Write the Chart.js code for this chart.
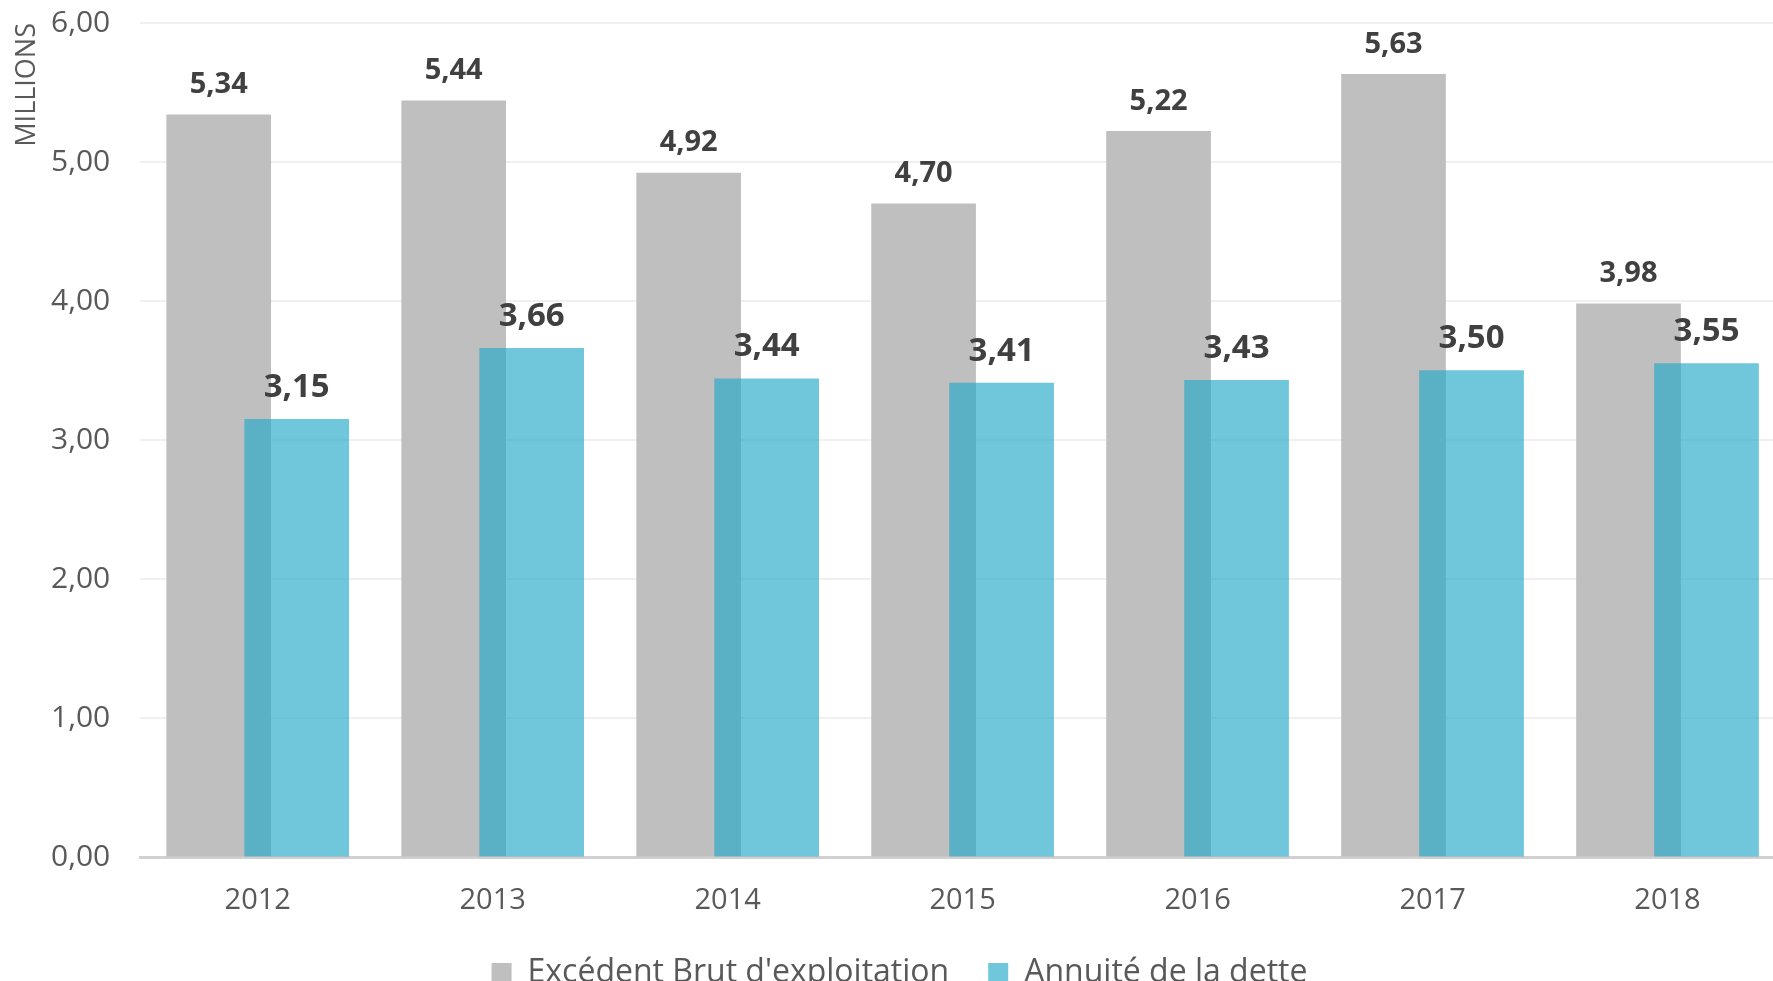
<!DOCTYPE html>
<html lang="fr">
<head>
<meta charset="utf-8">
<title>Excédent Brut d'exploitation et annuité de la dette</title>
<script src="https://cdn.jsdelivr.net/npm/chart.js@4.4.1/dist/chart.umd.min.js"></script>
<style>
  html, body { margin: 0; padding: 0; background: #ffffff; overflow: hidden; }
  .chart-box { position: relative; width: 1792px; height: 999px; }
</style>
</head>
<body>
<div class="chart-box"><canvas id="ebeChart"></canvas></div>
<script>
  // Montants en millions d'euros
  const years = ["2012", "2013", "2014", "2015", "2016", "2017", "2018"];
  const ebe = [5.34, 5.44, 4.92, 4.70, 5.22, 5.63, 3.98];
  const annuite = [3.15, 3.66, 3.44, 3.41, 3.43, 3.50, 3.55];
  const yTicks = [0, 1, 2, 3, 4, 5, 6];

  const FONT = "'Open Sans', 'Noto Sans', sans-serif";
  const TEXT = "#595959";

  function comma(value) {
    return Number(value).toFixed(2).replace(".", ",");
  }

  // the two bars sit left / right of the year, overlapping a little
  function points(values, shift) {
    return values.map((v, i) => ({ x: i + shift, y: v }));
  }

  const valueLabels = {
    id: "valueLabels",
    afterDatasetsDraw(chart, args, opts) {
      const ctx = chart.ctx;
      chart.data.datasets.forEach((dataset, i) => {
        const meta = chart.getDatasetMeta(i);
        if (meta.hidden) return;
        ctx.save();
        ctx.font = `bold ${opts.sizes[i]}px ${FONT}`;
        ctx.fillStyle = "#404040";
        ctx.textAlign = "center";
        ctx.textBaseline = "middle";
        meta.data.forEach((bar, index) => {
          ctx.fillText(comma(dataset.data[index].y), bar.x, bar.y - opts.gaps[i]);
        });
        ctx.restore();
      });
    }
  };

  new Chart(document.getElementById("ebeChart"), {
    type: "bar",
    data: {
      datasets: [
        {
          label: "Excédent Brut d'exploitation",
          data: points(ebe, -0.166),
          backgroundColor: "#bfbfbf",
          barThickness: 104,
          grouped: false,
          order: 1
        },
        {
          label: "Annuité de la dette",
          data: points(annuite, 0.166),
          backgroundColor: "rgba(35, 167, 200, 0.65)",
          barThickness: 104,
          grouped: false,
          order: 0
        }
      ]
    },
    options: {
      responsive: true,
      maintainAspectRatio: false,
      animation: false,
      layout: { padding: { top: 23, left: 14, right: 7, bottom: 0 } },
      plugins: {
        tooltip: { enabled: false },
        legend: {
          position: "bottom",
          reverse: true,
          labels: {
            boxWidth: 20,
            boxHeight: 20,
            padding: 39,
            color: TEXT,
            font: { family: FONT, size: 32 }
          }
        },
        valueLabels: { sizes: [29, 33], gaps: [30, 32] }
      },
      scales: {
        x: {
          type: "linear",
          min: -0.5,
          max: 6.5,
          offset: false,
          afterBuildTicks: (scale) => {
            scale.ticks = years.map((y, i) => ({ value: i }));
          },
          ticks: {
            padding: 0,
            color: TEXT,
            font: { family: FONT, size: 29 },
            callback: (value) => years[value] || ""
          },
          // invisible tick marks keep the year labels away from the axis
          grid: {
            color: "transparent",
            drawOnChartArea: false,
            tickLength: 26,
            tickColor: "transparent"
          },
          border: { display: true, color: "#d0d0d0", width: 3 }
        },
        y: {
          min: 0,
          max: 6,
          afterBuildTicks: (scale) => {
            scale.ticks = yTicks.map((v) => ({ value: v }));
          },
          ticks: {
            padding: 0,
            color: TEXT,
            font: { family: FONT, size: 30 },
            callback: (value) => comma(value)
          },
          grid: {
            color: "#f0f0f0",
            lineWidth: 2,
            tickLength: 30,
            tickColor: "transparent"
          },
          border: { display: false },
          title: {
            display: true,
            text: "MILLIONS",
            align: "end",
            color: TEXT,
            padding: { top: 0, bottom: 10 },
            font: { family: FONT, size: 27, lineHeight: 1 }
          }
        }
      }
    },
    plugins: [valueLabels]
  });
</script>
</body>
</html>
